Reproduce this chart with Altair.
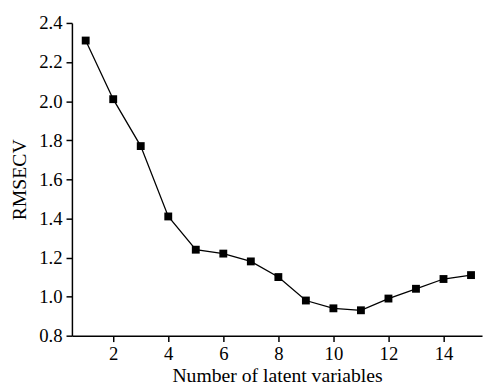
import altair as alt
import pandas as pd

latent_vars = list(range(1, 16))
rmsecv = [2.31, 2.01, 1.77, 1.41, 1.24, 1.22, 1.18, 1.10, 0.98, 0.94, 0.93, 0.99, 1.04, 1.09, 1.11]

df = pd.DataFrame({"n": latent_vars, "rmsecv": rmsecv})

FONT = "Liberation Serif"

x = alt.X("n:Q", title="Number of latent variables",
          scale=alt.Scale(domain=[0.5, 15.4], nice=False, zero=False),
          axis=alt.Axis(values=[2, 4, 6, 8, 10, 12, 14], grid=False, tickSize=6,
                        labelPadding=3, titlePadding=3))
y = alt.Y("rmsecv:Q", title="RMSECV",
          scale=alt.Scale(domain=[0.8, 2.4], nice=False, zero=False),
          axis=alt.Axis(values=[0.8, 1.0, 1.2, 1.4, 1.6, 1.8, 2.0, 2.2, 2.4], format=".1f",
                        grid=False, tickSize=6, labelPadding=4, titlePadding=9))

base = alt.Chart(df)
line = base.mark_line(color="black", strokeWidth=1.3).encode(x=x, y=y)
pts = base.mark_point(shape="square", filled=True, color="black", size=64, opacity=1).encode(x=x, y=y)

chart = (line + pts).properties(
    width=417, height=318,
    background="white",
    autosize=alt.AutoSizeParams(type="none"),
    padding={"left": 65, "top": 12, "right": 2, "bottom": 51},
).configure_view(stroke=None).configure_axis(
    domainColor="black", tickColor="black", domainWidth=1.5, tickWidth=1.5,
    labelFont=FONT, titleFont=FONT, labelFontSize=19, titleFontSize=20,
    labelColor="black", titleColor="black", titleFontWeight="normal",
)

chart.save("out.html", embed_options={"renderer": "svg", "actions": False})
